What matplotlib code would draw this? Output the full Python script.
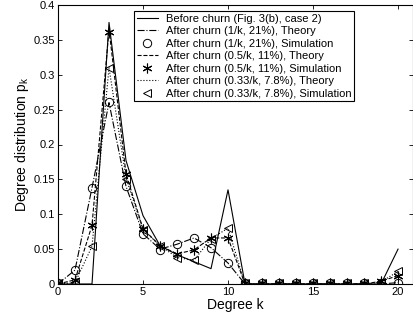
import matplotlib
matplotlib.use("Agg")
import matplotlib.pyplot as plt
import numpy as np

plt.rcParams['font.family'] = ['Liberation Sans', 'DejaVu Sans']
plt.rcParams['mathtext.fontset'] = 'custom'
plt.rcParams['mathtext.rm'] = 'Liberation Sans'
plt.rcParams['mathtext.it'] = 'Liberation Sans'

k = list(range(0, 21))

before = [0, 0, 0, 0.375, 0.177, 0.098, 0.055, 0.042, 0.032, 0.022, 0.135,
          0, 0, 0, 0, 0, 0, 0, 0, 0, 0.05]

theory_1 = [0, 0.02, 0.138, 0.26, 0.14, 0.072, 0.05, 0.057, 0.066, 0.052, 0.03,
            0, 0, 0, 0, 0, 0, 0, 0, 0, 0.002]
sim_1 = [0.002, 0.02, 0.138, 0.261, 0.14, 0.071, 0.049, 0.057, 0.066, 0.051, 0.03,
         0.002, 0.002, 0.002, 0.002, 0.002, 0.002, 0.002, 0.002, 0.002, 0.002]

theory_05 = [0, 0.006, 0.084, 0.365, 0.158, 0.079, 0.055, 0.043, 0.049, 0.066, 0.066,
             0, 0, 0, 0, 0, 0, 0, 0, 0.004, 0.012]
sim_05 = [0.002, 0.006, 0.084, 0.362, 0.157, 0.079, 0.055, 0.043, 0.049, 0.066, 0.066,
          0.002, 0.002, 0.002, 0.002, 0.002, 0.002, 0.002, 0.002, 0.005, 0.012]

theory_033 = [0, 0.002, 0.054, 0.31, 0.152, 0.078, 0.055, 0.038, 0.034, 0.065, 0.08,
              0, 0, 0, 0, 0, 0, 0, 0, 0.003, 0.018]
sim_033 = [0.001, 0.002, 0.054, 0.309, 0.151, 0.077, 0.055, 0.037, 0.034, 0.064, 0.08,
           0.002, 0.002, 0.002, 0.002, 0.002, 0.002, 0.002, 0.002, 0.003, 0.018]

labels = [
    "Before churn (Fig. 3(b), case 2)",
    "After churn (1/k, 21%), Theory",
    "After churn (1/k, 21%), Simulation",
    "After churn (0.5/k, 11%), Theory",
    "After churn (0.5/k, 11%), Simulation",
    "After churn (0.33/k, 7.8%), Theory",
    "After churn (0.33/k, 7.8%), Simulation",
]

fig = plt.figure(figsize=(4.14, 3.23), dpi=100)
ax = fig.add_axes([58/414, 39/323, 355/414, 279/323])

lw = 0.8
ax.plot(k, before, '-', color='black', lw=lw, label=labels[0])
ax.plot(k, theory_1, '-.', color='black', lw=lw, label=labels[1])
ax.plot(k, sim_1, 'o', mfc='none', mec='black', ms=6, mew=0.7, ls='none', label=labels[2])
ax.plot(k, theory_05, '--', color='black', lw=lw, label=labels[3])
ax.plot(k, sim_05, marker=(6, 2, 0), color='black', ms=7, mew=0.8, ls='none', label=labels[4])
ax.plot(k, theory_033, ':', color='black', lw=lw, label=labels[5])
ax.plot(k, sim_033, '<', mfc='none', mec='black', ms=6, mew=0.7, ls='none', label=labels[6])

ax.set_xlim(0, 20.88)
ax.set_ylim(0, 0.4)
ax.set_xticks([0, 5, 10, 15, 20])
ax.set_yticks([0, 0.05, 0.1, 0.15, 0.2, 0.25, 0.3, 0.35, 0.4])
ax.set_yticklabels(["0", "0.05", "0.1", "0.15", "0.2", "0.25", "0.3", "0.35", "0.4"])
ax.tick_params(direction='in', top=True, right=True, labelsize=8, length=3, width=0.6, pad=2)
for s in ax.spines.values():
    s.set_linewidth(0.8)

ax.set_xlabel("Degree k", fontsize=10, labelpad=1)
ax.set_ylabel("Degree distribution p$_\\mathregular{k}$", fontsize=10, labelpad=2)

leg = ax.legend(loc='upper left', bbox_to_anchor=(0.214, 0.978), fontsize=8,
                frameon=True, fancybox=False, edgecolor='black', framealpha=1,
                labelspacing=0.22, handlelength=1.9, handletextpad=0.7,
                borderpad=0.25, borderaxespad=0)
leg.get_frame().set_linewidth(0.8)

fig.savefig("out.png", dpi=100)
